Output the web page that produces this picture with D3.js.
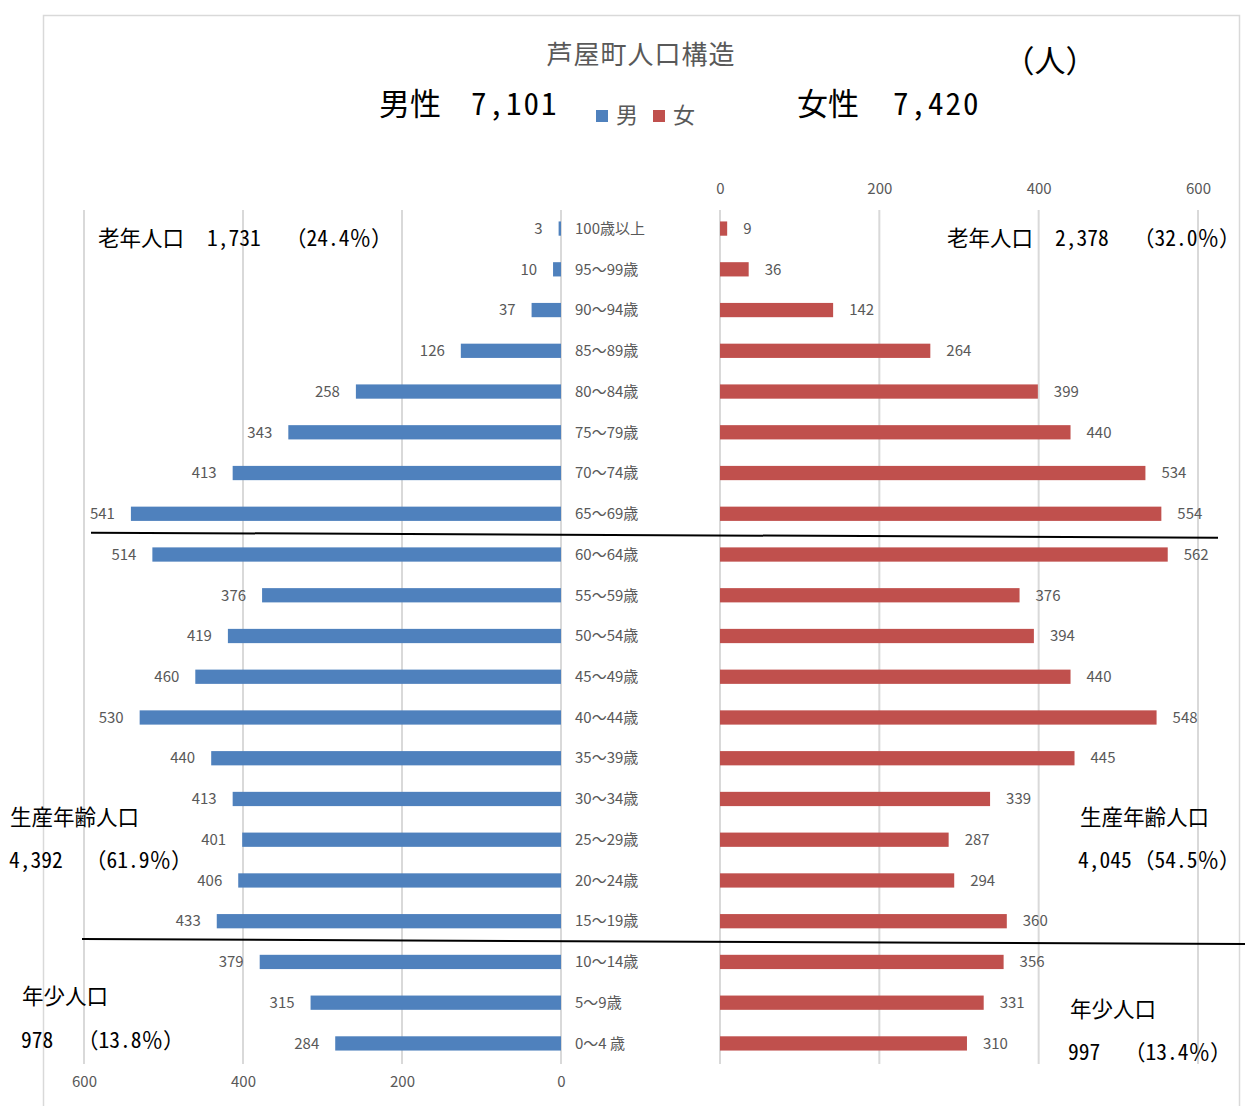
<!DOCTYPE html>
<html lang="ja">
<head>
<meta charset="utf-8">
<script src="https://cdn.jsdelivr.net/npm/d3@7"></script>
<style>
  html, body { margin: 0; padding: 0; background: #fff; }
  svg { display: block; }
  text { font-family: "Liberation Sans Narrow", "Noto Sans CJK JP", sans-serif; }
  text.mono { font-family: "Noto Sans Mono CJK JP", "Noto Sans CJK JP", monospace; }
</style>
</head>
<body>
<svg id="chart" width="1245" height="1106"></svg>
<script>
// Age groups, top (oldest) to bottom (youngest)
const categories = [
  "100歳以上", "95～99歳", "90～94歳", "85～89歳", "80～84歳", "75～79歳", "70～74歳",
  "65～69歳", "60～64歳", "55～59歳", "50～54歳", "45～49歳", "40～44歳", "35～39歳",
  "30～34歳", "25～29歳", "20～24歳", "15～19歳", "10～14歳", "5～9歳", "0～4 歳"
];
const maleValues = [3, 10, 37, 126, 258, 343, 413, 541, 514, 376, 419, 460, 530, 440, 413, 401, 406, 433, 379, 315, 284];
const femaleValues = [9, 36, 142, 264, 399, 440, 534, 554, 562, 376, 394, 440, 548, 445, 339, 287, 294, 360, 356, 331, 310];
const tickValues = [0, 200, 400, 600];

const titleText = "芦屋町人口構造";
const unitText = "（人）";
const totalLabels = ["男性", "女性"];
const totalCounts = ["7,101", "7,420"];
const legendLabels = ["男", "女"];

// Age-group summaries (老年 / 生産年齢 / 年少)
const groupNames = ["老年人口", "生産年齢人口", "年少人口"];
const maleGroupCounts = ["1,731", "4,392", "978"];
const maleGroupShares = ["（24.4％）", "（61.9％）", "（13.8％）"];
const femaleGroupCounts = ["2,378", "4,045", "997"];
const femaleGroupShares = ["（32.0％）", "（54.5％）", "（13.4％）"];

const BLUE = "#4F81BD", RED = "#C0504D", GRID = "#D9D9D9", GREY = "#595959";

const svg = d3.select("#chart");

// outer chart frame
svg.append("rect")
  .attr("x", 43.5).attr("y", 15.5).attr("width", 1196).attr("height", 1100)
  .attr("fill", "none").attr("stroke", "#D9D9D9").attr("stroke-width", 1.5);

const plotTop = 208, plotBottom = 1064;
const y = d3.scaleBand().domain(categories).range([plotTop, plotBottom]).paddingInner(0.65).paddingOuter(0.33);
const xL = d3.scaleLinear().domain([0, 600]).range([561, 84]);
const xR = d3.scaleLinear().domain([0, 600]).range([720, 1198]);

// gridlines
function grid(scale) {
  svg.append("g").selectAll("line").data(tickValues).join("line")
    .attr("x1", d => scale(d)).attr("x2", d => scale(d))
    .attr("y1", plotTop + 2).attr("y2", plotBottom)
    .attr("stroke", GRID).attr("stroke-width", 2);
}
grid(xL); grid(xR);

// axes: male axis at the bottom, female axis on top
const axL = svg.append("g").attr("transform", `translate(0,${plotBottom + 18})`)
  .call(d3.axisBottom(xL).tickValues(tickValues).tickSize(0).tickPadding(0));
const axR = svg.append("g").attr("transform", `translate(0,${plotTop - 19})`)
  .call(d3.axisTop(xR).tickValues(tickValues).tickSize(0).tickPadding(0));
[axL, axR].forEach(ax => {
  ax.select(".domain").remove();
  ax.selectAll("text").attr("font-size", 15).attr("fill", GREY).attr("dy", "0.35em")
    .style("font-family", '"Liberation Sans Narrow", "Noto Sans CJK JP", sans-serif');
});

// bars
const rows = categories.map((c, i) => ({ c, m: maleValues[i], f: femaleValues[i] }));
svg.append("g").selectAll("rect").data(rows).join("rect")
  .attr("x", d => xL(d.m)).attr("y", d => y(d.c))
  .attr("width", d => xL(0) - xL(d.m)).attr("height", y.bandwidth())
  .attr("fill", BLUE);
svg.append("g").selectAll("rect").data(rows).join("rect")
  .attr("x", xR(0)).attr("y", d => y(d.c))
  .attr("width", d => xR(d.f) - xR(0)).attr("height", y.bandwidth())
  .attr("fill", RED);

// value labels
const mid = d => y(d.c) + y.bandwidth() / 2;
svg.append("g").selectAll("text").data(rows).join("text")
  .attr("x", d => xL(d.m) - 16).attr("y", mid).attr("dy", "0.35em")
  .attr("text-anchor", "end").attr("font-size", 15).attr("fill", GREY)
  .text(d => d.m);
svg.append("g").selectAll("text").data(rows).join("text")
  .attr("x", d => xR(d.f) + 16).attr("y", mid).attr("dy", "0.35em")
  .attr("font-size", 15).attr("fill", GREY)
  .text(d => d.f);

// age-group labels between the two halves
svg.append("g").selectAll("text").data(rows).join("text")
  .attr("x", 575).attr("y", mid).attr("dy", "0.35em")
  .attr("font-size", 15).attr("fill", GREY)
  .text(d => d.c);

// title and totals
svg.append("text").attr("x", 641).attr("y", 55).attr("dy", "0.35em")
  .attr("text-anchor", "middle").attr("font-size", 26).attr("letter-spacing", 1)
  .attr("fill", GREY).text(titleText);
svg.append("text").attr("class", "mono").attr("x", 1050).attr("y", 61).attr("dy", "0.35em")
  .attr("text-anchor", "middle").attr("font-size", 31).attr("fill", "#000").text(unitText);

function put(x, yy, size, t, extra) {
  const el = svg.append("text").attr("class", "mono").attr("x", x).attr("y", yy).attr("dy", "0.35em")
    .attr("font-size", size).attr("fill", "#000").text(t);
  if (extra) el.attr("letter-spacing", extra);
  return el;
}
put(379, 104, 31, totalLabels[0]);
put(471, 104, 31, totalCounts[0], 2);
put(797, 104, 31, totalLabels[1]);
put(893, 104, 31, totalCounts[1], 2);

// legend
const legend = svg.append("g");
[[596, BLUE], [653, RED]].forEach(([lx, col], i) => {
  legend.append("rect").attr("x", lx).attr("y", 110).attr("width", 12).attr("height", 12).attr("fill", col);
  legend.append("text").attr("x", lx + 20).attr("y", 115).attr("dy", "0.35em")
    .attr("font-size", 22).attr("fill", GREY).text(legendLabels[i]);
});

// group summaries
const S = 21.5;
// 老年人口 (one line each side)
put(98, 238, S, groupNames[0]);
put(207, 238, S, maleGroupCounts[0]);
put(285, 238, S, maleGroupShares[0]);
put(947, 238, S, groupNames[0]);
put(1055, 238, S, femaleGroupCounts[0]);
put(1133, 238, S, femaleGroupShares[0]);
// 生産年齢人口
put(10, 817, S, groupNames[1]);
put(9, 860, S, maleGroupCounts[1]);
put(85, 860, S, maleGroupShares[1]);
put(1080, 817, S, groupNames[1]);
put(1078, 860, S, femaleGroupCounts[1]);
put(1133, 860, S, femaleGroupShares[1]);
// 年少人口
put(22, 996, S, groupNames[2]);
put(21, 1040, S, maleGroupCounts[2]);
put(77, 1040, S, maleGroupShares[2]);
put(1070, 1009, S, groupNames[2]);
put(1068, 1052, S, femaleGroupCounts[2]);
put(1124, 1052, S, femaleGroupShares[2]);

// dividers between 老年 / 生産年齢 / 年少 groups
function boundary(i) {
  return (mid(rows[i - 1]) + mid(rows[i])) / 2;
}
const b1 = boundary(8), b2 = boundary(18);
svg.append("line").attr("x1", 91).attr("y1", b1 - 1.5).attr("x2", 1218).attr("y2", b1 + 3.5)
  .attr("stroke", "#000").attr("stroke-width", 2);
svg.append("line").attr("x1", 82).attr("y1", b2 - 2.5).attr("x2", 1245).attr("y2", b2 + 2.5)
  .attr("stroke", "#000").attr("stroke-width", 2);
</script>
</body>
</html>
